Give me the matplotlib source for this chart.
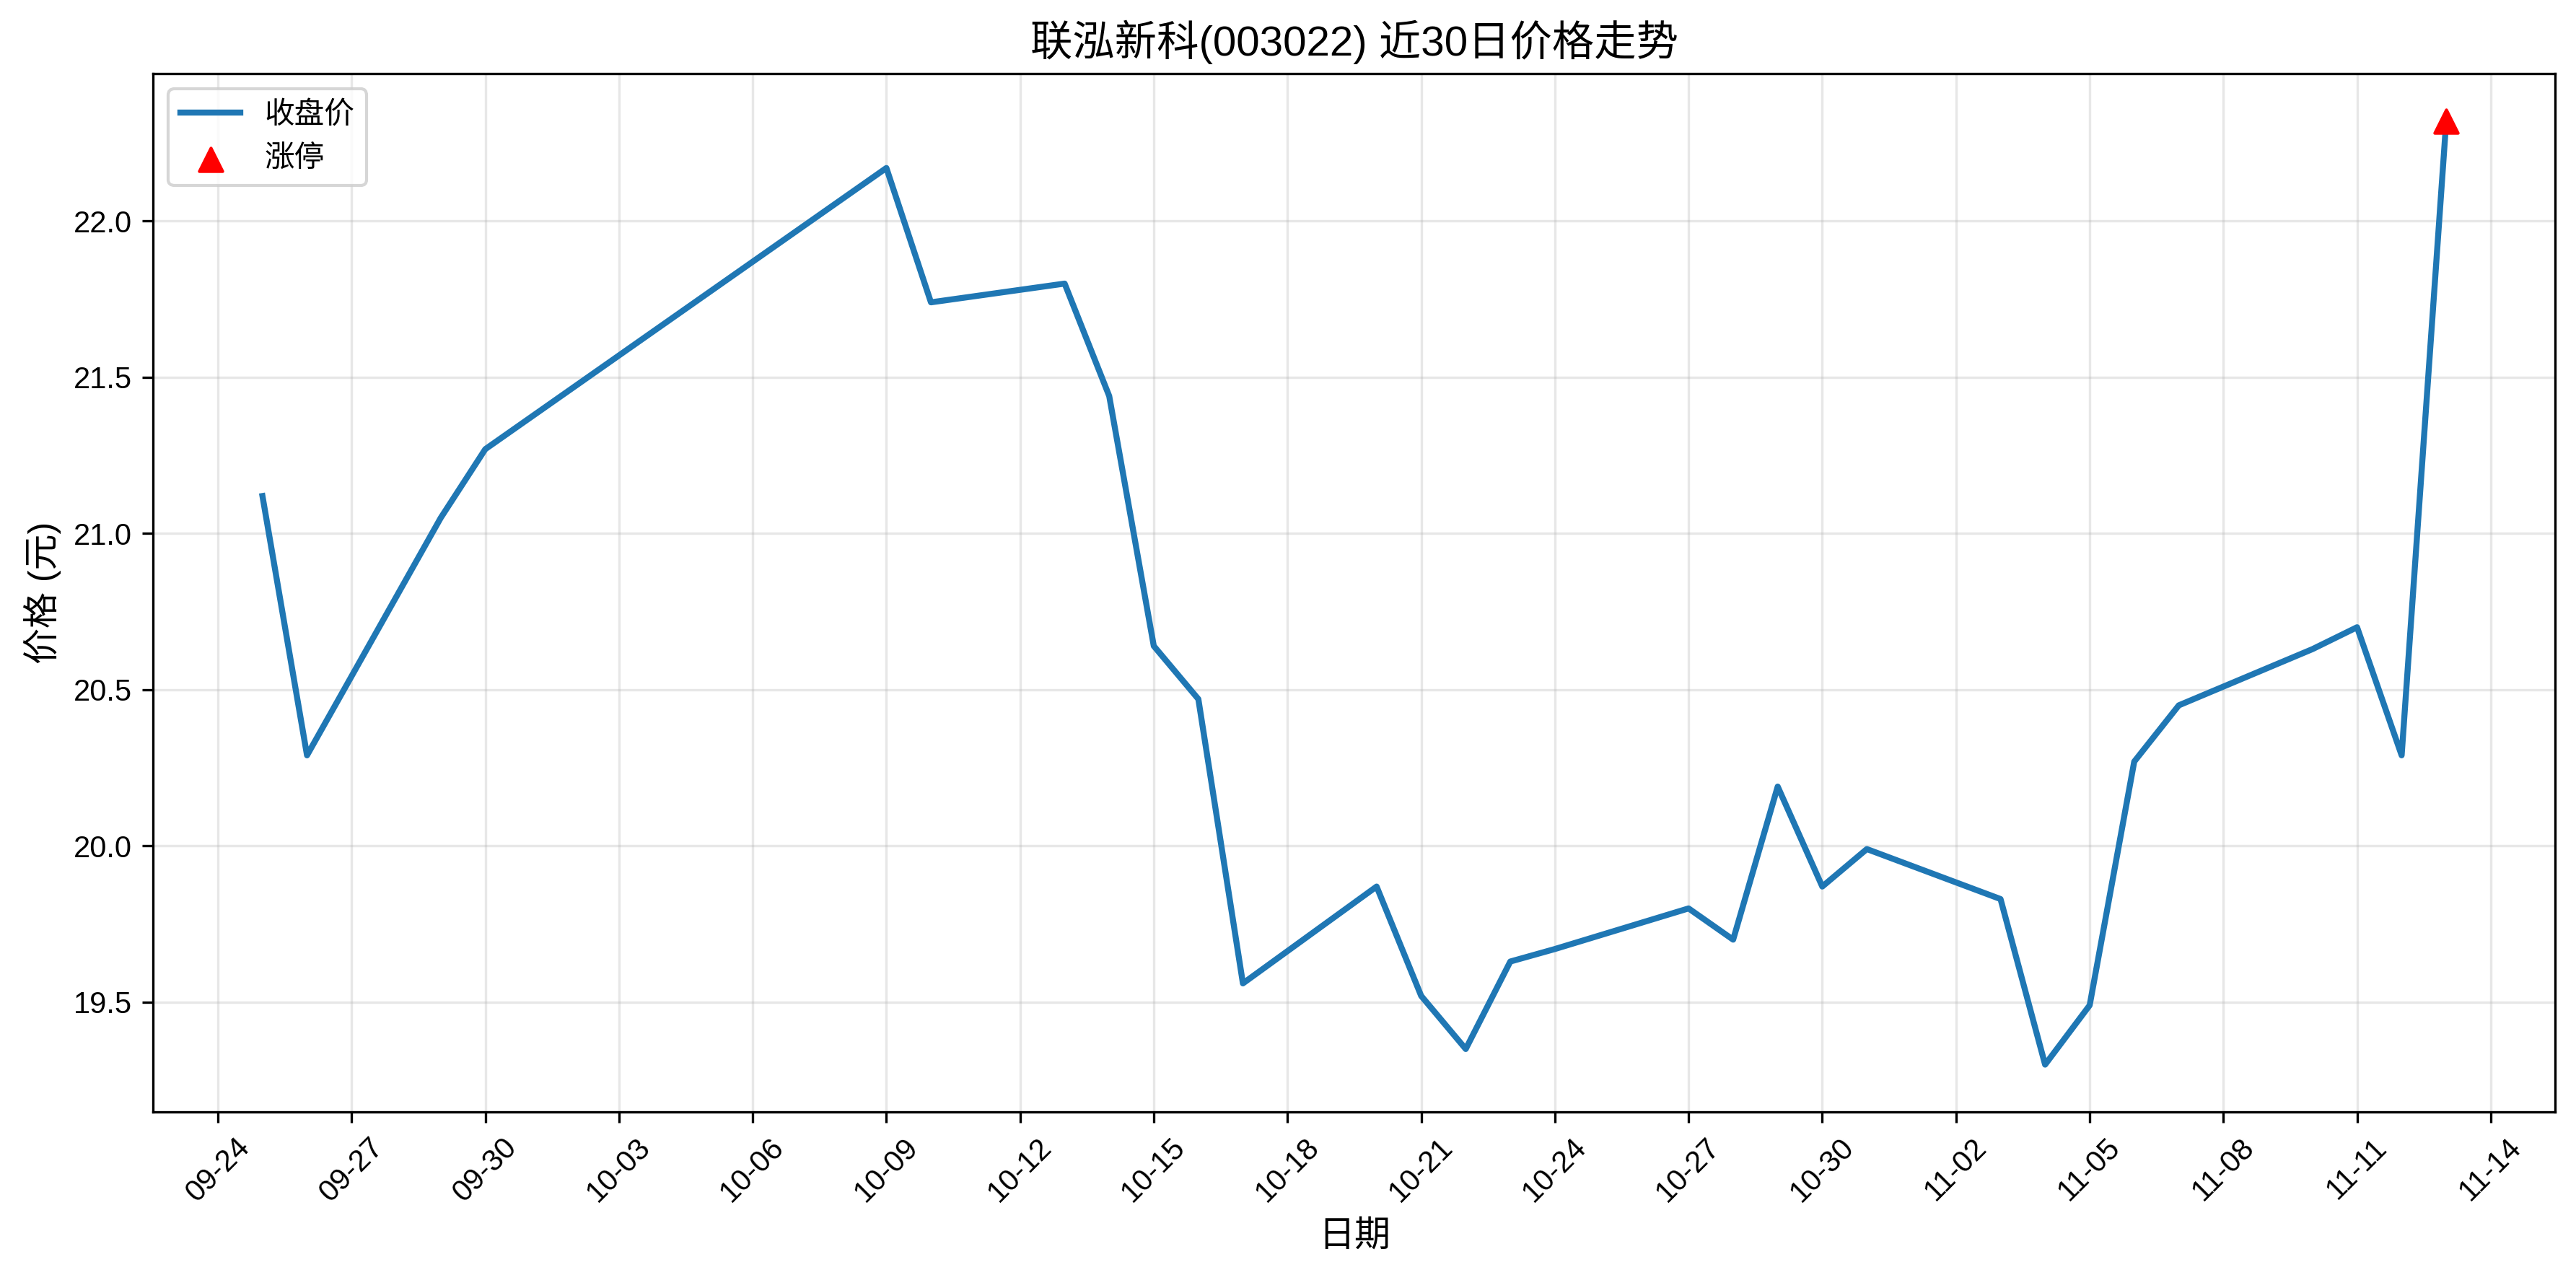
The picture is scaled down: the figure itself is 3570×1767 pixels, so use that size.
import matplotlib
matplotlib.use("Agg")
import matplotlib.pyplot as plt
import matplotlib.dates as mdates
import pandas as pd

plt.rcParams['font.family'] = ['Liberation Sans', 'Noto Sans CJK SC', 'DejaVu Sans']
plt.rcParams['axes.unicode_minus'] = False

dates = ["2025-09-25", "2025-09-26", "2025-09-29", "2025-09-30", "2025-10-09",
         "2025-10-10", "2025-10-13", "2025-10-14", "2025-10-15", "2025-10-16",
         "2025-10-17", "2025-10-20", "2025-10-21", "2025-10-22", "2025-10-23",
         "2025-10-24", "2025-10-27", "2025-10-28", "2025-10-29", "2025-10-30",
         "2025-10-31", "2025-11-03", "2025-11-04", "2025-11-05", "2025-11-06",
         "2025-11-07", "2025-11-10", "2025-11-11", "2025-11-12", "2025-11-13"]
close = [21.12, 20.29, 21.05, 21.27, 22.17,
         21.74, 21.80, 21.44, 20.64, 20.47,
         19.56, 19.87, 19.52, 19.35, 19.63,
         19.67, 19.80, 19.70, 20.19, 19.87,
         19.99, 19.83, 19.30, 19.49, 20.27,
         20.45, 20.63, 20.70, 20.29, 22.32]
limit_up_dates = ["2025-11-13"]
limit_up_prices = [22.32]
tick_start, tick_end = "2025-09-24", "2025-11-14"

x = pd.to_datetime(dates)
xu = pd.to_datetime(limit_up_dates)

fig, ax = plt.subplots(figsize=(11.9, 5.89), dpi=300)
ax.plot(x, close, color='#1f77b4', linewidth=2, label='收盘价')
ax.scatter(xu, limit_up_prices, color='red', marker='^', s=60, zorder=5, label='涨停')

ax.set_title('联泓新科(003022) 近30日价格走势', fontsize=14)
ax.set_xlabel('日期', fontsize=12)
ax.set_ylabel('价格 (元)', fontsize=12)
ax.grid(True, alpha=0.3)
ax.legend(loc='upper left')

ticks = pd.date_range(tick_start, tick_end, freq='3D')
ax.set_xticks(ticks)
ax.xaxis.set_major_formatter(mdates.DateFormatter('%m-%d'))
plt.setp(ax.get_xticklabels(), rotation=45)

fig.subplots_adjust(left=0.0595, right=0.992, top=0.942, bottom=0.128)
fig.savefig('out.png', dpi=300)
